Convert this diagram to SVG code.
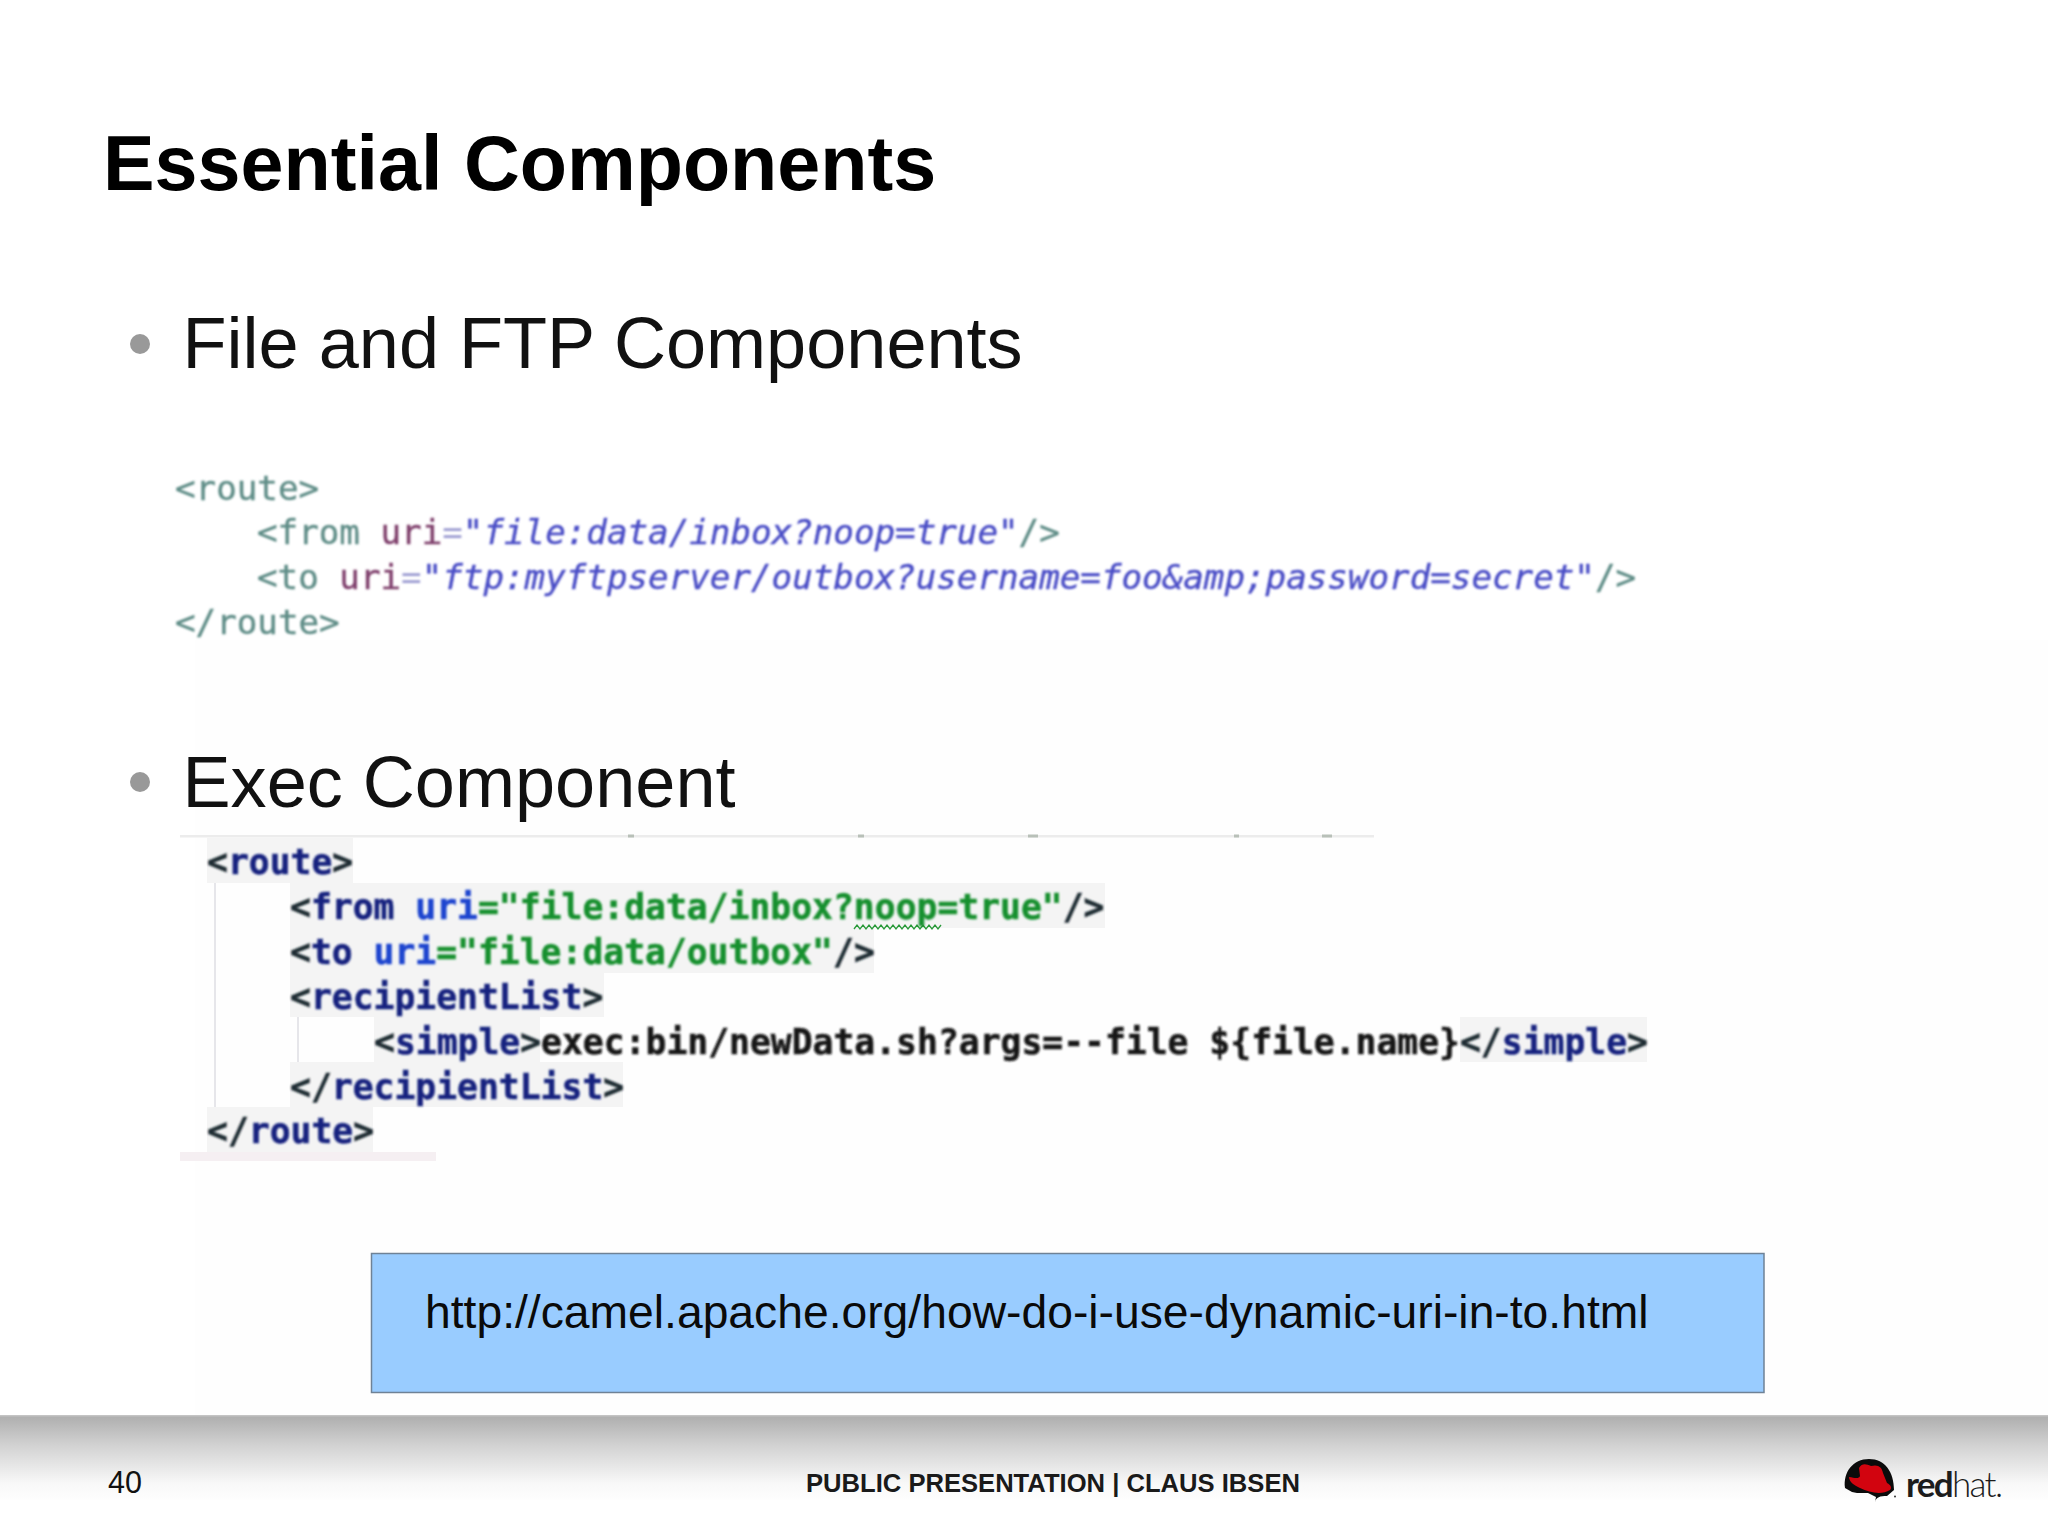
<svg xmlns="http://www.w3.org/2000/svg" width="2048" height="1535" viewBox="0 0 2048 1535">
<style>
.sans{font-family:"Liberation Sans",Arial,sans-serif}
.title{font-size:77.3px;font-weight:bold;fill:#000}
.bullet{font-size:72.1px;fill:#111}
.dot{fill:#999}
.c1{font-family:"DejaVu Sans Mono","Liberation Mono",monospace;font-size:34.2px}
.c2{font-family:"DejaVu Sans Mono","Liberation Mono",monospace;font-size:34.7px;font-weight:bold;stroke-width:.5px;paint-order:stroke}
.tg{fill:#5f8d87;stroke:#5f8d87;stroke-width:.4px}.at{fill:#7f3f6c;stroke:#7f3f6c;stroke-width:.4px}.vl{fill:#4a4dc6;stroke:#4a4dc6;stroke-width:.4px;font-style:italic}.eq{fill:#9a9ad0}
.tb{fill:#15237f;stroke:#15237f}.br{fill:#1c2a30;stroke:#1c2a30}.ab{fill:#1f44cf;stroke:#1f44cf}.sg{fill:#17902f;stroke:#17902f}.bk{fill:#151515;stroke:#151515}
.hl{fill:#f4f4f4}
</style>
<defs>
<linearGradient id="foot" x1="0" y1="0" x2="0" y2="1">
<stop offset="0" stop-color="#aeaeae"/><stop offset="0.35" stop-color="#d2d2d2"/><stop offset="0.8" stop-color="#f8f8f8"/><stop offset="1" stop-color="#fefefe"/>
</linearGradient>
<filter id="b1" x="-2%" y="-10%" width="104%" height="120%"><feGaussianBlur stdDeviation="1.1"/></filter>
<filter id="b2" x="-2%" y="-10%" width="104%" height="120%"><feGaussianBlur stdDeviation="0.8"/></filter>
</defs>
<rect id="background" width="2048" height="1535" fill="#fff"/>
<rect x="195" y="640" width="1853" height="775" fill="#fefefe"/>
<g id="title"><text class="sans title" x="103" y="190">Essential Components</text></g>
<g id="bullet-file">
<circle class="dot" cx="140" cy="344" r="10"/>
<text class="sans bullet" x="182.5" y="368">File and FTP Components</text>
</g>
<g id="code-file" filter="url(#b1)">
<text class="c1" y="500"><tspan class="tg" x="175">&lt;route&gt;</tspan></text>
<text class="c1" y="544"><tspan class="tg" x="257">&lt;from </tspan><tspan class="at">uri</tspan><tspan class="eq">=</tspan><tspan class="vl">"file:data/inbox?noop=true"</tspan><tspan class="tg">/&gt;</tspan></text>
<text class="c1" y="589"><tspan class="tg" x="257">&lt;to </tspan><tspan class="at">uri</tspan><tspan class="eq">=</tspan><tspan class="vl">"ftp:myftpserver/outbox?username=foo&amp;amp;password=secret"</tspan><tspan class="tg">/&gt;</tspan></text>
<text class="c1" y="633.5"><tspan class="tg" x="175">&lt;/route&gt;</tspan></text>
</g>
<g id="bullet-exec">
<circle class="dot" cx="140" cy="782" r="10"/>
<text class="sans bullet" x="182.5" y="807">Exec Component</text>
</g>
<g id="code-exec">
<rect x="180" y="835" width="1194" height="2.5" fill="#ececec"/>
<path d="M628 836h6M858 836h6M1028 836h10M1234 836h5M1322 836h10" stroke="#b8c0b8" stroke-width="3" fill="none"/>
<rect x="180" y="1152" width="256" height="9" fill="#f5eff2"/>
<rect class="hl" x="207" y="838" width="146" height="45"/>
<rect class="hl" x="290" y="883" width="815" height="45"/>
<rect class="hl" x="290" y="928" width="584" height="45"/>
<rect class="hl" x="290" y="973" width="314" height="44"/>
<rect class="hl" x="374" y="1017" width="166" height="45"/>
<rect class="hl" x="1460" y="1017" width="187" height="45"/>
<rect class="hl" x="290" y="1062" width="333" height="45"/>
<rect class="hl" x="207" y="1107" width="166" height="45"/>
<rect x="214" y="883" width="2" height="224" fill="#e6e6ea"/>
<rect x="297" y="1017" width="2" height="45" fill="#e6e6ea"/>
<path d="M854 929l3-4 3 4 3-4 3 4 3-4 3 4 3-4 3 4 3-4 3 4 3-4 3 4 3-4 3 4 3-4 3 4 3-4 3 4 3-4 3 4 3-4 3 4 3-4 3 4 3-4 3 4 3-4 3 4 3-4" fill="none" stroke="#2a9a3a" stroke-width="1.3"/>
<g filter="url(#b2)">
<text class="c2" y="873.5"><tspan class="br" x="207">&lt;</tspan><tspan class="tb">route</tspan><tspan class="br">&gt;</tspan></text>
<text class="c2" y="918.5"><tspan class="br" x="290">&lt;</tspan><tspan class="tb">from </tspan><tspan class="ab">uri</tspan><tspan class="sg">="file:data/inbox?noop=true"</tspan><tspan class="br">/&gt;</tspan></text>
<text class="c2" y="963.5"><tspan class="br" x="290">&lt;</tspan><tspan class="tb">to </tspan><tspan class="ab">uri</tspan><tspan class="sg">="file:data/outbox"</tspan><tspan class="br">/&gt;</tspan></text>
<text class="c2" y="1008.5"><tspan class="br" x="290">&lt;</tspan><tspan class="tb">recipientList</tspan><tspan class="br">&gt;</tspan></text>
<text class="c2" y="1053.5"><tspan class="br" x="374">&lt;</tspan><tspan class="tb">simple</tspan><tspan class="br">&gt;</tspan><tspan class="bk">exec:bin/newData.sh?args=--file ${file.name}</tspan><tspan class="br">&lt;/</tspan><tspan class="tb">simple</tspan><tspan class="br">&gt;</tspan></text>
<text class="c2" y="1098.5"><tspan class="br" x="290">&lt;/</tspan><tspan class="tb">recipientList</tspan><tspan class="br">&gt;</tspan></text>
<text class="c2" y="1143"><tspan class="br" x="207">&lt;/</tspan><tspan class="tb">route</tspan><tspan class="br">&gt;</tspan></text>
</g>
</g>
<g id="link-box">
<rect x="371.5" y="1253.5" width="1392.5" height="139" fill="#99ccff" stroke="#6f8296" stroke-width="1.5"/>
<text class="sans" x="425" y="1328" font-size="46.25" fill="#0a0a0a">http://camel.apache.org/how-do-i-use-dynamic-uri-in-to.html</text>
</g>
<g id="footer">
<rect x="0" y="1416" width="2048" height="84" fill="url(#foot)"/>
<rect x="0" y="1415" width="2048" height="1.5" fill="#c4c4c4"/>
<text class="sans" x="108" y="1492.5" font-size="30.5" fill="#111">40</text>
<text class="sans" x="806" y="1492" font-size="25.6" font-weight="bold" fill="#1a1a1a">PUBLIC PRESENTATION | CLAUS IBSEN</text>
</g>
<g id="redhat-logo">
<path d="M1845 1488C1843 1472 1853 1459 1869 1459C1885 1459 1894 1472 1894 1490L1887 1496C1880 1496 1876 1497 1875 1502L1876 1497L1868 1493L1857 1493L1852 1492Z" fill="#0b0b0b"/>
<path d="M1849 1477C1855 1478 1859 1479 1860 1476L1859 1468C1862 1463 1866 1464 1871 1466C1878 1464 1882 1467 1883 1473L1887 1483C1891 1485 1892 1488 1890 1490C1882 1495 1870 1493 1860 1488C1853 1485 1849 1481 1849 1477Z" fill="#d2040f"/>
<circle cx="1895" cy="1496.5" r="1" fill="#333"/>
<text x="1906" y="1497" font-family="Lato,'Open Sans',sans-serif" font-size="35" fill="#1c1c1c" letter-spacing="-1.7"><tspan font-weight="bold">red</tspan><tspan font-weight="300">hat.</tspan></text>
</g>
</svg>
